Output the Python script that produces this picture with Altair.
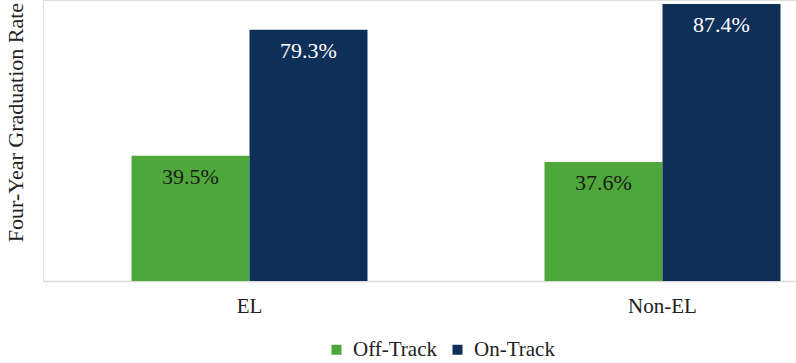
import altair as alt
import pandas as pd

groups = ["EL", "EL", "Non-EL", "Non-EL"]
series = ["Off-Track", "On-Track", "Off-Track", "On-Track"]
rates = [39.5, 79.3, 37.6, 87.4]
labels = ["39.5%", "79.3%", "37.6%", "87.4%"]

df = pd.DataFrame({"group": groups, "series": series, "rate": rates, "label": labels})

FONT = "Liberation Serif"
series_order = ["Off-Track", "On-Track"]
colors = ["#4ea73a", "#0e2f58"]

x = alt.X(
    "group:N",
    title=None,
    sort=["EL", "Non-EL"],
    scale=alt.Scale(domain=["EL", "Non-EL"], range=[0, 826], paddingInner=0.4286, paddingOuter=0.2143),
    axis=alt.Axis(
        labelAngle=0, ticks=False, domainColor="#d9d9d9", domainWidth=1.5,
        labelFont=FONT, labelFontSize=21, labelColor="#222222", labelPadding=14,
    ),
)
xo = alt.XOffset("series:N", sort=series_order,
                 scale=alt.Scale(domain=series_order, paddingInner=0, paddingOuter=0))
y = alt.Y(
    "rate:Q",
    scale=alt.Scale(domain=[0, 88.7], nice=False),
    axis=alt.Axis(
        title="Four-Year Graduation Rate", labels=False, ticks=False, domain=False, grid=False,
        titleFont=FONT, titleFontSize=22, titleFontWeight="normal", titleColor="#222222",
        titleX=-16, titleY=122, titleAngle=270,
    ),
)

bars = alt.Chart(df).mark_bar().encode(
    x=x, xOffset=xo, y=y,
    color=alt.Color(
        "series:N", sort=series_order,
        scale=alt.Scale(domain=series_order, range=colors),
        legend=alt.Legend(
            title=None, orient="none", direction="horizontal", legendX=283, legendY=339,
            symbolType="square", symbolSize=100, symbolStrokeWidth=0, labelFont=FONT,
            labelFontSize=21, labelColor="#222222", labelOffset=6, columnPadding=10,
        ),
    ),
)

text = alt.Chart(df).mark_text(font=FONT, fontSize=22, baseline="middle", dy=21).encode(
    x=x, xOffset=xo, y=y,
    text="label:N",
    color=alt.condition(alt.datum.series == "On-Track", alt.value("#ffffff"), alt.value("#1a1a1a")),
)

chart = (
    alt.layer(bars, text)
    .properties(
        width=753, height=281,
        autosize=alt.AutoSizeParams(type="none"),
        padding={"left": 43, "top": 0, "right": 0, "bottom": 82},
    )
    .configure_view(stroke="transparent", strokeWidth=0)
    .configure(background="white", font=FONT)
)

chart.save("out.html", embed_options={"renderer": "svg", "actions": False})
